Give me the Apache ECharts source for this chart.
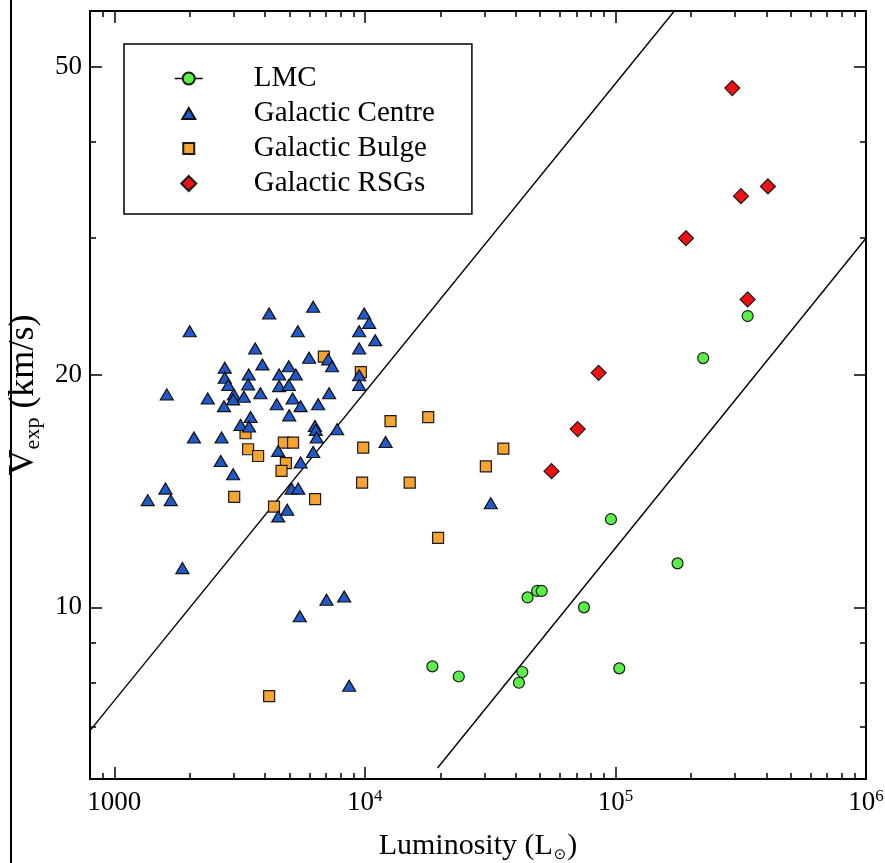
<!DOCTYPE html>
<html><head><meta charset="utf-8">
<script src="https://cdn.jsdelivr.net/npm/echarts@6/dist/echarts.min.js"></script>
<style>html,body{margin:0;padding:0;background:#fff}#c{width:885px;height:863px}</style>
</head><body><div id="c"></div><script>
// ---- data (luminosity in L_sun, expansion velocity in km/s) ----
const lmcL = [337000, 224000, 96000, 177000, 44600, 48700, 50800, 74900, 18600, 23700, 42500, 41200, 103600];
const lmcV = [23.8, 21.0, 13.0, 11.4, 10.3, 10.5, 10.5, 10.0, 8.39, 8.14, 8.25, 7.99, 8.34];

const gcL = [2000, 4150, 6220, 9940, 10400, 5400, 9490, 11000, 3650, 9490, 5990, 7140, 7400, 3900, 2760, 4970, 3440, 4550, 5300, 9490,
             2760, 2850, 3420, 4550, 4970, 9490, 1620, 3000, 3290, 3830, 7200, 2360, 2980, 2740, 4450, 5150, 5540, 6510, 4990, 3500,
             3190, 3450, 6320, 6370, 7750, 6420, 2080, 2680, 12100, 4510, 6220, 2660, 5540, 2980, 1600, 1360, 1680, 5100, 5420, 4900,
             4510, 1870, 5500, 7030, 8270, 8660, 31800];
const gcV = [22.75, 23.98, 24.47, 23.98, 23.32, 22.75, 22.75, 22.15, 21.61, 21.61, 21.02, 20.92, 20.5, 20.61, 20.41, 20.5, 20.0, 20.0, 20.0, 19.95,
             19.81, 19.38, 19.42, 19.32, 19.38, 19.38, 18.85, 18.85, 18.72, 18.91, 18.91, 18.62, 18.57, 18.2, 18.3, 18.62, 18.2, 18.3, 17.71, 17.62,
             17.21, 17.13, 17.16, 16.96, 16.99, 16.58, 16.58, 16.58, 16.36, 15.93, 15.88, 15.46, 15.39, 14.86, 14.24, 13.76, 13.76, 14.24, 14.24, 13.37,
             13.11, 11.24, 9.74, 10.23, 10.33, 7.92, 13.63];

const gbL = [6860, 9640, 12660, 17900, 3340, 4750, 5170, 9850, 3420, 3750, 4840, 4650, 3010, 6330, 4340, 9750, 15100, 35700, 30400, 19600, 4150];
const gbV = [21.09, 20.14, 17.41, 17.62, 16.79, 16.33, 16.33, 16.09, 16.01, 15.69, 15.36, 15.01, 13.89, 13.8, 13.5, 14.5, 14.5, 16.04, 15.21, 12.3, 7.68];

const rsgL = [292600, 317000, 406000, 191200, 337000, 85700, 70700, 55600];
const rsgV = [46.9, 34.0, 35.0, 30.0, 25.0, 20.1, 17.0, 15.0];

// two reference relations V ∝ L^0.4 (endpoints)
const upperLineL = [800, 171900];
const upperLineV = [6.93, 59];
const lowerLineL = [19500, 1000000];
const lowerLineV = [6.2, 30];

// axes
const xMin = 800, xMax = 1e6, yMin = 6, yMax = 59;
const xMajorTicks = [1000, 1e4, 1e5, 1e6];
const xTickLabels = ['{b|1000}', '{b|10}{s|4}', '{b|10}{s|5}', '{b|10}{s|6}'];
const xMinorTicks = [900, 2000, 3000, 4000, 5000, 6000, 7000, 8000, 9000,
                     2e4, 3e4, 4e4, 5e4, 6e4, 7e4, 8e4, 9e4,
                     2e5, 3e5, 4e5, 5e5, 6e5, 7e5, 8e5, 9e5];
const yMajorTicks = [10, 20, 50];
const yTickLabels = ['10', '20', '50'];
const yMinorTicks = [7, 8, 9, 30, 40];

const seriesNames = ['LMC', 'Galactic Centre', 'Galactic Bulge', 'Galactic RSGs'];

// ---- build chart ----
const lg = Math.log10;
const zip = (a, b) => a.map((v, i) => [v, b[i]]);
const FONT = "'Liberation Serif','Times New Roman',serif";
const lblFor = (ticks, labels) => v => {
  const i = ticks.findIndex(t => Math.abs(lg(t) - v) < 1e-6);
  return i >= 0 ? labels[i] : '';
};
const lineSt = {color: '#000', width: 2};
const tickSt = {color: '#000', width: 1.5};

function decoAxis(kind, pos, ticks, len, labelOpt, extra) {
  const isX = kind === 'x';
  return Object.assign({
    type: 'value', position: pos, gridIndex: 0,
    min: isX ? lg(xMin) : lg(yMin), max: isX ? lg(xMax) : lg(yMax),
    axisLine: {show: true, lineStyle: lineSt},
    axisTick: {show: true, inside: true, length: len, lineStyle: tickSt, customValues: ticks.map(lg)},
    axisLabel: labelOpt || {show: false},
    splitLine: {show: false}, minorTick: {show: false}, silent: true
  }, extra || {});
}

// legend icon shapes inside a common 15x15 frame (kept at their aspect)
const legendIcons = {
  'Galactic Centre': 'path://M0,0M15,15M1,13L7.5,2L14,13Z',
  'Galactic Bulge': 'path://M0,0M15,15M2,2L13,2L13,13L2,13Z',
  'Galactic RSGs': 'path://M7.5,0L15,7.5L7.5,15L0,7.5Z'
};

const chart = echarts.init(document.getElementById('c'));
chart.setOption({
  animation: false,
  backgroundColor: '#fff',
  grid: {left: 90, right: 19, top: 11, bottom: 84, containLabel: false, outerBoundsMode: 'none'},
  xAxis: [
    {type: 'log', logBase: 10, min: xMin, max: xMax, show: false, splitLine: {show: false}},
    decoAxis('x', 'bottom', xMajorTicks, 12, {
      show: true, customValues: xMajorTicks.map(lg), margin: 9,
      formatter: lblFor(xMajorTicks, xTickLabels), color: '#000',
      rich: {b: {fontFamily: FONT, fontSize: 27, color: '#000', lineHeight: 30},
             s: {fontFamily: FONT, fontSize: 17, color: '#000', verticalAlign: 'top', lineHeight: 17}}
    }, {
      name: '{t|Luminosity (L}{o|⊙}{t|)}', nameLocation: 'middle', nameGap: 52,
      nameTextStyle: {rich: {t: {fontFamily: FONT, fontSize: 30, color: '#000'},
                             o: {fontFamily: "'DejaVu Sans',sans-serif", fontSize: 15, color: '#000', verticalAlign: 'bottom', padding: [0, 1, -2, 1]}}}
    }),
    decoAxis('x', 'bottom', xMinorTicks, 6),
    decoAxis('x', 'top', xMajorTicks, 12),
    decoAxis('x', 'top', xMinorTicks, 6)
  ],
  yAxis: [
    {type: 'log', logBase: 10, min: yMin, max: yMax, show: false, splitLine: {show: false}},
    decoAxis('y', 'left', yMajorTicks, 12, {
      show: true, customValues: yMajorTicks.map(lg), margin: 8,
      formatter: lblFor(yMajorTicks, yTickLabels), color: '#000', fontFamily: FONT, fontSize: 27
    }, {
      name: '{t|V}{s|exp}{t| (km/s)}', nameLocation: 'middle', nameGap: 46,
      nameTextStyle: {rich: {t: {fontFamily: FONT, fontSize: 36, color: '#000'},
                             s: {fontFamily: FONT, fontSize: 22, color: '#000', verticalAlign: 'bottom', padding: [0, 0, -3, 0]}}}
    }),
    decoAxis('y', 'left', yMinorTicks, 6),
    decoAxis('y', 'right', yMajorTicks, 12),
    decoAxis('y', 'right', yMinorTicks, 6)
  ],
  legend: {
    data: seriesNames.map(n => legendIcons[n] ? {name: n, icon: legendIcons[n]} : {name: n}),
    orient: 'vertical', left: 124, top: 44,
    padding: [20, 37, 16, 50], itemGap: 6, itemWidth: 28, itemHeight: 15,
    symbolKeepAspect: true,
    borderColor: '#000', borderWidth: 1.5, borderRadius: 0, backgroundColor: '#fff',
    selectedMode: false,
    lineStyle: {color: '#000', width: 1.5, opacity: 1},
    textStyle: {fontFamily: FONT, fontSize: 29, color: '#000', padding: [0, 0, 0, 46]}
  },
  graphic: [{type: 'line', shape: {x1: 11, y1: 0, x2: 11, y2: 863}, style: {stroke: '#000', lineWidth: 2}, silent: true}],
  series: [
    {name: 'upper relation', type: 'line', data: zip(upperLineL, upperLineV), xAxisIndex: 0, yAxisIndex: 0,
     symbol: 'none', lineStyle: {color: '#000', width: 1.4}, silent: true, z: 1},
    {name: 'lower relation', type: 'line', data: zip(lowerLineL, lowerLineV), xAxisIndex: 0, yAxisIndex: 0,
     symbol: 'none', lineStyle: {color: '#000', width: 1.4}, silent: true, z: 1},
    {name: 'Galactic Bulge', type: 'scatter', data: zip(gbL, gbV), symbol: 'rect', symbolSize: 11,
     itemStyle: {color: '#f5a431', borderColor: '#1a1a1a', borderWidth: 1.2, opacity: 1}, z: 2},
    {name: 'Galactic Centre', type: 'scatter', data: zip(gcL, gcV), symbol: 'triangle', symbolSize: [13, 11],
     itemStyle: {color: '#2159c9', borderColor: '#111', borderWidth: 1.2, opacity: 1}, z: 3},
    {name: 'LMC', type: 'line', data: zip(lmcL, lmcV), symbol: 'circle', symbolSize: 11, showSymbol: true, showAllSymbol: true,
     lineStyle: {opacity: 0, width: 0}, itemStyle: {color: '#5cee48', borderColor: '#1a1a1a', borderWidth: 1.2, opacity: 1}, z: 4},
    {name: 'Galactic RSGs', type: 'scatter', data: zip(rsgL, rsgV), symbol: 'diamond', symbolSize: 15,
     itemStyle: {color: '#ee1111', borderColor: '#1a1a1a', borderWidth: 1.2, opacity: 1}, z: 5}
  ]
});
</script></body></html>
